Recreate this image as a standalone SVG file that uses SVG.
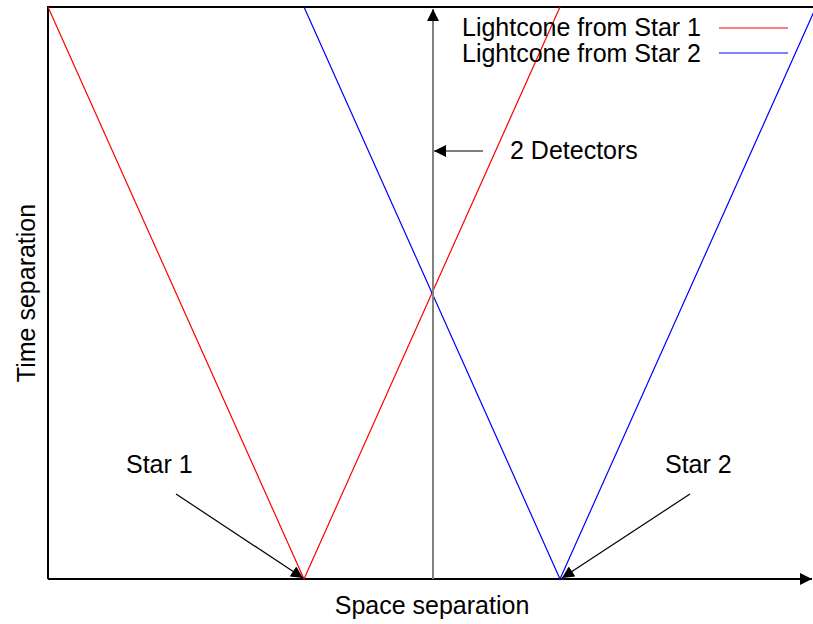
<svg xmlns="http://www.w3.org/2000/svg" width="813" height="624" viewBox="0 0 813 624">
<style>
text{font-family:"Liberation Sans",Arial,sans-serif;font-size:25px;fill:#000}
.red{stroke:#ff0000;stroke-width:1.2;fill:none}
.blue{stroke:#0000ff;stroke-width:1.2;fill:none}
.frame{stroke:#000;stroke-width:2;fill:none}
.ptr{stroke:#000;stroke-width:1.2;fill:none}
</style>
<defs>
<marker id="ah" viewBox="0 0 10 10" refX="10" refY="5" markerWidth="16" markerHeight="12" markerUnits="userSpaceOnUse" orient="auto">
<path d="M0,0 L10,5 L0,10 Z" fill="#000"/>
</marker>
</defs>
<rect width="813" height="624" fill="#fff"/>
<g id="axes">
<path class="frame" d="M48,579 L48,7 L813,7"/>
<line class="frame" x1="48" y1="579" x2="812" y2="579" marker-end="url(#ah)"/>
</g>
<g id="lightcones">
<polyline class="red" points="48,7 304,579 560,7"/>
<polyline class="blue" points="304,7 560,579 816,7"/>
</g>
<g id="detectors">
<line x1="433" y1="579" x2="433" y2="9" stroke="#808080" stroke-width="2" marker-end="url(#ah)"/>
<text x="510" y="159">2 Detectors</text>
</g>
<g id="connectors">
<line class="ptr" x1="483" y1="151" x2="434" y2="151" marker-end="url(#ah)"/>
<line class="ptr" x1="176" y1="494" x2="303" y2="578" marker-end="url(#ah)"/>
<line class="ptr" x1="690" y1="494" x2="562" y2="578" marker-end="url(#ah)"/>
</g>
<g id="star1"><text x="126" y="473">Star 1</text></g>
<g id="star2"><text x="665" y="473">Star 2</text></g>
<g id="legend">
<text x="462" y="36">Lightcone from Star 1</text>
<line class="red" x1="719" y1="28" x2="788" y2="28"/>
<text x="462" y="62">Lightcone from Star 2</text>
<line class="blue" x1="719" y1="53" x2="788" y2="53"/>
</g>
<g id="labels">
<text x="432" y="614" text-anchor="middle">Space separation</text>
<text transform="translate(35,293) rotate(-90)" text-anchor="middle">Time separation</text>
</g>
</svg>
